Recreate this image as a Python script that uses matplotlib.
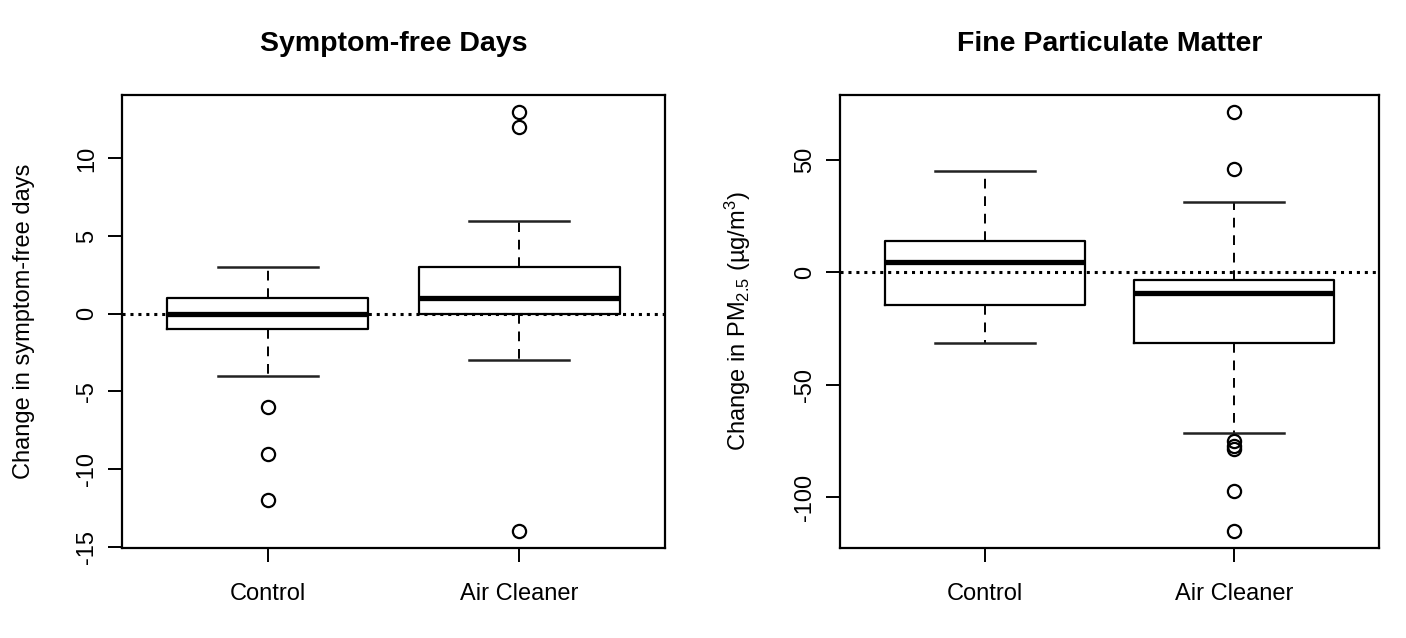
import matplotlib
matplotlib.use('Agg')
import matplotlib.pyplot as plt

plt.rcParams['font.family'] = ['Liberation Sans', 'DejaVu Sans']
plt.rcParams['mathtext.fontset'] = 'custom'
plt.rcParams['mathtext.rm'] = 'Liberation Sans'
plt.rcParams['mathtext.it'] = 'Liberation Sans:italic'
plt.rcParams['mathtext.bf'] = 'Liberation Sans:bold'
plt.rcParams['axes.unicode_minus'] = False

groups = ['Control', 'Air Cleaner']

# Symptom-free days
sfd_whislo = [-4, -3]
sfd_q1 = [-1, 0]
sfd_med = [0, 1]
sfd_q3 = [1, 3]
sfd_whishi = [3, 6]
sfd_fliers = [[-6, -9, -12], [12, 13, -14]]

# PM2.5
pm_whislo = [-31.4, -71.3]
pm_q1 = [-14.4, -31.4]
pm_med = [4.3, -9.3]
pm_q3 = [13.9, -3.4]
pm_whishi = [44.9, 31.1]
pm_fliers = [[], [71.3, 45.6, -75.1, -77.3, -78.8, -97.3, -115.2]]


def make_stats(lo, q1, med, q3, hi, fl):
    return [dict(label=g, whislo=lo[i], q1=q1[i], med=med[i], q3=q3[i],
                 whishi=hi[i], fliers=fl[i]) for i, g in enumerate(groups)]


def draw_panel(ax, stats, title, ylabel, yticks, ylim, lab_x):
    ax.bxp(stats, positions=[1, 2], widths=0.8, capwidths=0.4,
           boxprops=dict(color='black', linewidth=1.6),
           medianprops=dict(color='black', linewidth=3.8, solid_capstyle='butt'),
           whiskerprops=dict(color='black', linewidth=1.4, linestyle=(0, (5, 4))),
           capprops=dict(color='#222222', linewidth=1.8),
           flierprops=dict(marker='o', markersize=9.5, markerfacecolor='none',
                           markeredgecolor='black', markeredgewidth=1.6))
    ax.axhline(0, color='black', linewidth=2.2, linestyle=(0, (1, 1.6)), zorder=5)
    ax.set_xlim(0.42, 2.58)
    ax.set_ylim(*ylim)
    ax.set_yticks(yticks)
    ax.set_xticks([1, 2])
    ax.set_xticklabels(groups)
    ax.tick_params(axis='both', direction='out', length=10, width=1.4,
                   labelsize=17, colors='black')
    ax.tick_params(axis='x', pad=15)
    ax.tick_params(axis='y', pad=7, labelrotation=90)
    for lbl in ax.get_yticklabels():
        lbl.set_va('center')
    for s in ax.spines.values():
        s.set_linewidth(1.6)
    ax.set_title(title, fontsize=20.5, fontweight='bold', pad=32)
    ax.set_ylabel(ylabel, fontsize=17, va='center')
    ax.yaxis.set_label_coords(lab_x, 0.5)


fig = plt.figure(figsize=(14.06, 6.38), dpi=100)
ax1 = fig.add_axes([122 / 1406, 90 / 638, 543 / 1406, 453 / 638])
ax2 = fig.add_axes([840 / 1406, 90 / 638, 539 / 1406, 453 / 638])

draw_panel(ax1, make_stats(sfd_whislo, sfd_q1, sfd_med, sfd_q3, sfd_whishi, sfd_fliers),
           'Symptom-free Days', 'Change in symptom-free days',
           [-15, -10, -5, 0, 5, 10], (-15.08, 14.08), -0.18)
draw_panel(ax2, make_stats(pm_whislo, pm_q1, pm_med, pm_q3, pm_whishi, pm_fliers),
           'Fine Particulate Matter', 'Change in PM$_{2.5}$ (µg/m$^{3}$)',
           [-100, -50, 0, 50], (-122.6, 78.7), -0.19)

fig.savefig('out.png', dpi=100)
